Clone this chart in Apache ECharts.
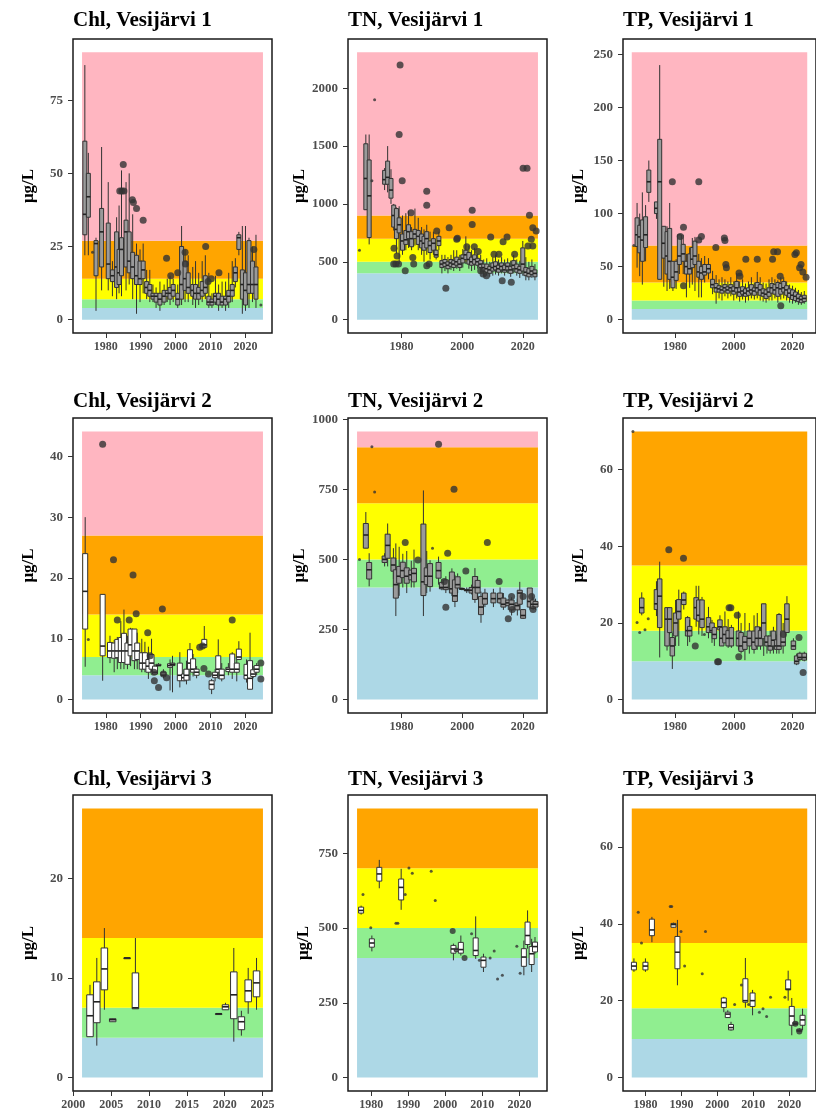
<!DOCTYPE html>
<html>
<head>
<meta charset="utf-8">
<script src="https://cdn.jsdelivr.net/npm/echarts@6/dist/echarts.min.js"></script>
<style>
  html, body { margin: 0; padding: 0; background: #fff; }
  #chart { width: 816px; height: 1111px; }
</style>
</head>
<body>
<div id="chart"></div>
<script>
// box rows: [year, min, q1, median, q3, max]; outliers / single points: [year, value]

const chl1Boxes = [
  [1974.0, 22, 29, 36, 61, 87], [1975.0, 22, 35, 42, 50, 57], [1977.2, 3, 15, 26, 27, 28],
  [1978.8, 10, 18, 30, 38, 59], [1980.7, 10, 14, 19, 33, 47], [1981.9, 8, 13, 15, 17, 20],
  [1983.1, 7, 11, 18, 30, 35], [1983.8, 9, 12, 16, 24, 39], [1984.5, 8, 15, 24, 28, 51],
  [1985.8, 10, 18, 30, 34, 47], [1986.7, 12, 16, 20, 30, 50], [1987.7, 7, 14, 18, 23, 36],
  [1988.8, 2, 12, 15, 22, 26], [1989.8, 6, 12, 14, 20, 24], [1990.7, 9, 14, 17, 20, 26],
  [1991.7, 7, 9, 11, 13, 17], [1992.6, 6, 8, 10, 12, 17], [1993.5, 6, 7, 8, 9, 12],
  [1994.4, 4, 6, 8, 9, 11], [1995.5, 3, 5, 7, 9, 13], [1996.7, 5, 6, 8, 10, 12],
  [1997.6, 6, 8, 9, 10, 14], [1998.4, 5, 7, 9, 11, 15], [1999.3, 6, 8, 10, 12, 14],
  [2000.6, 4, 5, 7, 9, 12], [2001.7, 5, 7, 12, 25, 32], [2002.7, 6, 10, 14, 20, 24],
  [2003.6, 6, 9, 11, 16, 22], [2004.9, 5, 8, 10, 12, 18], [2005.7, 4, 7, 9, 12, 20],
  [2006.6, 5, 7, 9, 11, 16], [2007.6, 6, 8, 10, 13, 20], [2008.5, 7, 9, 11, 15, 22],
  [2009.5, 4, 5, 6, 8, 16], [2010.4, 4, 5, 6, 7, 9], [2011.4, 5, 6, 8, 9, 15],
  [2012.3, 3, 5, 7, 9, 12], [2013.3, 4, 5, 6, 8, 13], [2014.3, 3, 5, 7, 8, 13],
  [2015.2, 4, 6, 8, 10, 16], [2016.2, 6, 8, 10, 12, 20], [2017.1, 11, 13, 16, 18, 21],
  [2018.1, 22, 24, 28, 29, 30], [2019.1, 2, 7, 12, 17, 32], [2020.0, 3, 5, 10, 16, 32],
  [2021.0, 4, 9, 12, 27, 28], [2022.0, 6, 9, 12, 20, 25], [2023.0, 4, 7, 12, 18, 29]
];
const chl1Outliers = [
  [1984.0, 44], [1984.6, 44], [1985.2, 44], [1985.0, 53], [1987.6, 41], [1987.9, 40],
  [1988.8, 38], [1990.7, 34], [1997.4, 21], [1998.6, 15], [2000.6, 16], [2002.7, 23],
  [2002.8, 19], [2008.6, 25], [2009.3, 13], [2010.2, 14], [2012.4, 16], [2022.4, 24]
];
const chl1Points = [[1976.2, 23], [2024.4, 5]];

const tn1Boxes = [
  [1968.2, 950, 950, 1220, 1520, 1600], [1969.3, 650, 710, 1070, 1380, 1600],
  [1974.4, 1120, 1170, 1210, 1290, 1310], [1975.4, 1100, 1170, 1230, 1370, 1500],
  [1976.5, 1000, 1050, 1120, 1220, 1300], [1977.4, 770, 800, 900, 990, 1000],
  [1978.3, 570, 700, 780, 960, 970], [1979.2, 480, 750, 820, 880, 980],
  [1980.3, 560, 600, 680, 740, 900], [1981.4, 600, 650, 690, 770, 920],
  [1982.3, 620, 700, 760, 820, 940], [1983.3, 600, 630, 700, 760, 800],
  [1984.4, 640, 700, 740, 780, 960], [1985.5, 600, 650, 720, 770, 880],
  [1986.6, 560, 620, 680, 740, 800], [1987.4, 500, 600, 660, 720, 780],
  [1988.3, 560, 620, 700, 760, 820], [1989.4, 520, 580, 640, 680, 760],
  [1990.5, 560, 600, 660, 700, 760], [1991.4, 520, 540, 560, 600, 640],
  [1992.3, 600, 640, 680, 720, 760], [1993.3, 400, 450, 480, 510, 560],
  [1994.3, 420, 460, 490, 520, 560], [1995.3, 400, 440, 470, 500, 540],
  [1996.3, 430, 460, 490, 520, 560], [1997.2, 420, 450, 480, 510, 600],
  [1998.2, 440, 470, 500, 540, 600], [1999.2, 420, 450, 480, 520, 560],
  [2000.2, 450, 490, 530, 560, 610], [2001.2, 480, 520, 560, 600, 720],
  [2002.2, 440, 480, 520, 580, 640], [2003.1, 420, 470, 500, 540, 600],
  [2004.1, 430, 480, 520, 560, 620], [2005.1, 440, 470, 500, 530, 570],
  [2006.1, 410, 450, 480, 510, 560], [2007.1, 380, 420, 450, 480, 520],
  [2008.1, 380, 410, 440, 480, 530], [2009.1, 370, 400, 430, 460, 500],
  [2010.1, 380, 420, 450, 490, 540], [2011.0, 390, 430, 460, 500, 560],
  [2012.0, 380, 410, 440, 470, 520], [2013.0, 400, 430, 460, 490, 540],
  [2014.0, 380, 410, 430, 470, 520], [2015.0, 400, 430, 460, 490, 530],
  [2016.0, 370, 400, 430, 460, 510], [2017.0, 400, 440, 470, 510, 560],
  [2018.0, 380, 410, 440, 480, 520], [2019.0, 360, 400, 430, 460, 510],
  [2020.0, 380, 420, 480, 620, 680], [2021.0, 340, 380, 410, 450, 540],
  [2022.0, 340, 370, 400, 440, 500], [2023.0, 360, 390, 420, 460, 520],
  [2024.0, 340, 370, 400, 430, 480]
];
const tn1Outliers = [
  [1979.5, 2200], [1979.2, 1600], [1980.2, 1200], [1977.5, 617], [1977.4, 480], [1978.1, 480],
  [1979.0, 480], [1978.5, 551], [1981.2, 423], [1983.1, 923], [1983.7, 537], [1984.0, 480],
  [1988.3, 1109], [1988.3, 989], [1988.3, 466], [1989.1, 480], [1991.6, 766], [1994.6, 271],
  [1995.7, 794], [1998.2, 694], [1998.4, 703], [2001.5, 629], [2003.3, 946], [2003.3, 823],
  [2004.0, 629], [2005.3, 589], [2006.1, 423], [2006.9, 394], [2008.0, 380], [2009.4, 714],
  [2010.5, 566], [2012.1, 566], [2013.2, 337], [2013.5, 674], [2014.8, 714], [2016.2, 323],
  [2017.3, 566], [2020.1, 1309], [2021.4, 1309], [2022.2, 903], [2022.8, 694], [2023.3, 637],
  [2024.4, 766], [2021.7, 637], [2023.3, 794]
];
const tn1Points = [[1966.1, 600], [1971.1, 1900], [1970.2, 1200]];

const tp1Boxes = [
  [1967.1, 49, 69, 80, 96, 110], [1968.0, 41, 63, 78, 89, 100], [1968.9, 33, 55, 75, 94, 120],
  [1970.0, 55, 68, 80, 97, 108], [1971.1, 111, 120, 130, 141, 150], [1973.7, 95, 100, 105, 111, 111],
  [1974.8, 38, 38, 130, 170, 240], [1976.2, 31, 58, 72, 88, 88], [1977.3, 27, 43, 60, 83, 88],
  [1978.2, 29, 38, 55, 86, 110], [1979.3, 27, 30, 40, 55, 55], [1980.4, 29, 37, 45, 55, 57],
  [1981.5, 43, 52, 60, 80, 80], [1982.8, 43, 55, 62, 71, 80], [1983.9, 21, 43, 50, 55, 62],
  [1985.0, 30, 43, 48, 62, 68], [1985.9, 33, 49, 57, 68, 77], [1986.8, 27, 52, 60, 74, 78],
  [1988.1, 21, 40, 45, 55, 62], [1989.0, 21, 38, 44, 50, 58], [1990.1, 35, 42, 45, 52, 60],
  [1991.4, 38, 44, 48, 52, 58], [1992.8, 24, 30, 33, 38, 46], [1994.0, 15, 26, 30, 34, 42],
  [1995.0, 20, 26, 29, 32, 38], [1996.0, 18, 25, 28, 31, 40], [1997.0, 22, 27, 30, 33, 38],
  [1998.0, 20, 25, 28, 31, 36], [1999.0, 22, 27, 30, 33, 40], [2000.0, 18, 24, 27, 31, 36],
  [2001.0, 20, 26, 30, 36, 44], [2002.0, 17, 22, 26, 30, 36], [2003.0, 19, 24, 27, 31, 38],
  [2004.0, 16, 22, 25, 29, 34], [2005.0, 18, 23, 27, 30, 36], [2006.0, 20, 25, 28, 33, 40],
  [2007.0, 19, 23, 27, 30, 35], [2008.0, 20, 26, 30, 35, 45], [2009.0, 18, 23, 28, 33, 40],
  [2010.0, 17, 22, 25, 29, 35], [2011.0, 16, 20, 24, 28, 34], [2012.0, 18, 22, 26, 30, 38],
  [2013.0, 18, 25, 30, 34, 40], [2014.0, 20, 24, 28, 33, 38], [2015.0, 16, 22, 30, 35, 37],
  [2016.0, 19, 24, 29, 34, 40], [2017.0, 20, 26, 30, 36, 40], [2018.0, 18, 23, 28, 32, 36],
  [2019.0, 16, 21, 25, 29, 33], [2020.0, 15, 19, 23, 28, 32], [2021.0, 16, 18, 22, 26, 30],
  [2022.0, 14, 17, 20, 24, 28], [2023.0, 14, 16, 19, 22, 26], [2024.0, 15, 17, 20, 23, 27]
];
const tp1Outliers = [
  [1979.1, 130], [1981.8, 78.5], [1982.9, 87], [1982.9, 32], [1988.1, 130], [1988.1, 75],
  [1989.0, 78.5], [1993.9, 68], [1996.8, 77], [1997.0, 74.5], [1997.3, 52], [1997.5, 49],
  [2001.8, 44], [2002.1, 41], [2004.1, 57], [2008.0, 57], [2013.2, 57], [2013.6, 64],
  [2014.9, 64], [2015.8, 41], [2016.0, 13], [2020.8, 61.5], [2021.3, 63], [2022.4, 49],
  [2022.9, 52], [2023.5, 45], [2024.6, 40]
];
const tp1Points = [[1966.0, 70]];

const chl2Boxes = [
  [1974.1, 5.4, 11.6, 17.8, 24, 30], [1979.1, 3.1, 7.2, 8.8, 17.3, 17.3], [1981.2, 6, 6.9, 8, 9.4, 10.5],
  [1982.4, 4.5, 6.8, 8, 9.3, 9.8], [1983.3, 5, 6.9, 8, 9.9, 10.3], [1984.3, 5, 6.1, 8, 10.2, 12.9],
  [1985.2, 5, 6.1, 8, 10.9, 14.8], [1986.2, 5, 5.8, 8, 9.3, 10.5], [1987.1, 5.5, 7.2, 9, 11.6, 11.8],
  [1988.2, 5, 6.4, 8, 11.6, 11.6], [1989.0, 5, 6.6, 8, 9.3, 11], [1990.3, 4.5, 5, 6, 7.7, 10],
  [1991.2, 4.5, 5, 6, 7.7, 9.5], [1992.2, 3.4, 4.5, 5.5, 6.6, 8.7], [1993.1, 4.5, 5, 6, 7.4, 10],
  [1994.1, 4.2, 4.2, 4.5, 5.5, 5.8], [1995.1, 5.5, 5.6, 5.6, 5.8, 6], [1996.5, 3.5, 4, 4, 4.5, 5],
  [1998.4, 1.5, 5.3, 5.6, 5.9, 6.6], [1999.1, 1.2, 5.6, 5.8, 6, 7.2], [2001.2, 2, 3.1, 4, 6, 7.8],
  [2002.4, 3, 3.1, 3.6, 4.2, 5], [2003.1, 2.5, 3.2, 4, 5, 6.4], [2004.1, 3.1, 5, 6, 8.2, 9.3],
  [2005.0, 3.8, 4.5, 5, 6.7, 7.5], [2006.0, 3.5, 4, 4.5, 5, 5.5], [2008.2, 8.6, 8.6, 9, 9.9, 12.1],
  [2010.3, 0.9, 1.7, 2.5, 3.1, 3.4], [2011.3, 3, 3.6, 4, 4.5, 5], [2012.2, 3.4, 4.5, 5, 7.2, 9.9],
  [2013.2, 3, 3.4, 4, 5, 6], [2015.1, 4, 4.6, 5, 5.3, 6], [2016.2, 3.4, 4.5, 5, 7.5, 7.8],
  [2017.5, 3, 4.5, 5, 6, 6.7], [2018.1, 6.5, 6.6, 7, 8.3, 9.6], [2020.3, 2.8, 3.4, 4, 5.8, 6.6],
  [2021.3, 1.7, 1.7, 3.5, 6.4, 11], [2022.2, 3.5, 3.8, 4.2, 4.9, 5.5], [2023.2, 4, 4.5, 5, 5.6, 6]
];
const chl2Outliers = [
  [1979.1, 42], [1982.2, 23], [1983.3, 13.1], [1986.7, 13.1], [1987.8, 20.5], [1988.7, 14.1],
  [1992.0, 11], [1992.7, 7.2], [1993.8, 4.5], [1993.9, 3.1], [1995.1, 2.0], [1996.2, 14.9],
  [1996.5, 4.2], [1997.4, 3.6], [2006.9, 8.6], [2007.7, 8.8], [2008.1, 5.1], [2009.4, 4.2],
  [2016.2, 13.1], [2024.4, 6], [2024.4, 3.4]
];
const chl2Points = [[1975.0, 9.9]];

const tn2Boxes = [
  [1968.2, 540, 540, 587, 628, 669], [1969.3, 404, 430, 463, 489, 522], [1974.4, 475, 489, 500, 512, 522],
  [1975.4, 475, 504, 550, 590, 628], [1977.3, 430, 458, 480, 505, 540], [1978.1, 298, 362, 410, 463, 557],
  [1979.2, 370, 415, 440, 475, 545], [1980.4, 400, 435, 460, 490, 520], [1981.7, 380, 415, 440, 470, 530],
  [1983.2, 400, 427, 445, 462, 495], [1984.1, 400, 420, 450, 468, 535], [1987.2, 298, 371, 420, 626, 746],
  [1988.3, 380, 410, 440, 470, 530], [1989.4, 385, 403, 440, 485, 497], [1992.2, 410, 433, 460, 489, 510],
  [1993.3, 390, 395, 400, 418, 430], [1994.6, 380, 392, 400, 427, 440], [1996.6, 370, 380, 395, 455, 468],
  [1997.6, 330, 350, 370, 427, 445], [1998.5, 380, 398, 410, 438, 450], [1999.9, 390, 393, 395, 397, 400],
  [2001.5, 380, 388, 390, 393, 400], [2003.1, 375, 380, 390, 400, 410], [2004.2, 345, 357, 400, 439, 469],
  [2005.1, 360, 380, 400, 425, 440], [2006.2, 274, 303, 330, 368, 385], [2007.5, 330, 340, 360, 380, 395],
  [2010.3, 330, 345, 360, 380, 395], [2012.5, 340, 345, 360, 380, 400], [2013.6, 320, 330, 340, 362, 380],
  [2015.2, 320, 335, 345, 355, 360], [2016.3, 300, 320, 340, 355, 365], [2018.2, 300, 320, 335, 345, 360],
  [2019.0, 320, 340, 380, 390, 420], [2020.1, 288, 290, 300, 321, 321], [2022.3, 321, 330, 350, 398, 398],
  [2023.4, 320, 325, 340, 355, 365], [2024.2, 320, 330, 340, 350, 360]
];
const tn2Outliers = [
  [1981.2, 560], [1985.4, 498], [1992.2, 911], [1994.1, 421], [1994.6, 329], [1995.2, 522],
  [1997.3, 750], [2001.2, 459], [2008.3, 560], [2012.2, 421], [2015.2, 288], [2016.3, 368],
  [2016.5, 321], [2020.1, 368], [2022.9, 368], [2023.4, 321]
];
const tn2Points = [[1966.1, 500], [1970.2, 902], [1971.1, 740], [1990.2, 540]];

const tp2Boxes = [
  [1968.7, 22, 22.6, 24, 26.5, 28], [1973.7, 21.8, 23.5, 25, 28.7, 30.9], [1974.8, 11, 18.8, 27, 31.5, 36],
  [1977.3, 12.8, 14, 21, 24, 24], [1978.2, 17, 17.5, 21, 24, 24], [1979.1, 8, 11.4, 14, 16.2, 17.5],
  [1980.2, 14, 16.6, 20, 22.6, 26], [1981.3, 14, 21, 23, 26.1, 28.7], [1983.0, 23.5, 24.8, 26, 27.8, 28.2],
  [1984.3, 14, 16.6, 18, 21.4, 21.8], [1985.0, 15, 16.6, 18, 19.1, 20.8], [1987.2, 19, 21, 24, 26.6, 29.7],
  [1988.1, 17, 20.5, 22, 26, 29.7], [1989.2, 16.6, 18.8, 21, 26, 26.8], [1991.4, 16, 17.5, 19, 21.4, 24.2],
  [1992.6, 14.8, 17.5, 18, 20, 20.8], [1993.4, 14, 15.9, 17, 18.8, 19.1], [1995.3, 15, 18.2, 19, 20.8, 22],
  [1995.9, 14, 14, 16, 18.8, 19], [1997.0, 14.8, 14.8, 17, 19, 23], [1998.1, 13.5, 14, 16, 18, 21],
  [1999.2, 13.5, 14, 16, 18.8, 19.5], [2001.6, 13, 14, 16, 17.9, 23], [2002.5, 12, 12.6, 14, 17.5, 20],
  [2003.8, 10.3, 13.1, 15, 16.5, 22.6], [2005.3, 12, 14, 16, 17.9, 20], [2006.9, 12, 13.1, 15, 17.9, 22],
  [2008.0, 13, 14, 16, 19, 22.6], [2009.1, 13, 14, 16, 18, 19], [2010.2, 11.4, 15.9, 20, 25, 25],
  [2011.3, 12, 14, 15, 16.6, 16.6], [2012.4, 12, 12.9, 14, 16.6, 18], [2013.5, 12, 14, 15.5, 17.9, 19],
  [2014.6, 12, 13.1, 14, 15.6, 17], [2015.4, 12, 13.1, 14, 22.2, 22.6], [2016.8, 12, 14, 15, 17.9, 20],
  [2018.1, 17.5, 17.5, 21, 25, 27], [2020.3, 13, 13.1, 14, 15.3, 16], [2021.4, 9, 9.3, 10, 11.4, 12],
  [2022.5, 10, 10.5, 11, 12.1, 12.5], [2024.0, 10, 10.3, 11, 12.1, 12.5]
];
const tp2Outliers = [
  [1977.9, 39.1], [1982.9, 36.9], [1986.9, 14], [1994.5, 9.9], [1994.8, 9.9], [1998.4, 24],
  [1999.0, 24], [2001.2, 22], [2001.7, 11.2], [2016.9, 17], [2022.2, 16.2], [2023.6, 7.1]
];
const tp2Points = [[1965.7, 70], [1967.1, 20.1], [1968.0, 17.5], [1969.8, 18.2], [1970.9, 21.1], [1990.0, 17]];

const chl3Boxes = [
  [2002.2, 4.1, 4.1, 6.2, 8.3, 9.3], [2003.1, 3.2, 5.5, 7.6, 9.6, 12], [2004.1, 6.8, 8.8, 10.9, 13, 15],
  [2005.2, 5.6, 5.6, 5.8, 5.9, 5.9], [2007.1, 12, 12, 12, 12, 12], [2008.2, 6.9, 6.9, 7, 10.5, 14],
  [2019.2, 6.4, 6.4, 6.4, 6.4, 6.4], [2020.1, 6.8, 6.8, 7.1, 7.3, 7.5], [2021.2, 3.6, 5.9, 8.3, 10.6, 13],
  [2022.2, 4.2, 4.8, 5.6, 6.1, 6.7], [2023.1, 6.4, 7.6, 8.7, 9.8, 11], [2024.2, 6.8, 8.1, 9.5, 10.7, 12]
];
const chl3Outliers = [];
const chl3Points = [];

const tn3Boxes = [
  [1977.3, 545, 550, 559, 570, 575], [1980.2, 422, 436, 450, 464, 475], [1982.2, 633, 657, 681, 703, 728],
  [1988.1, 561, 594, 636, 664, 698], [2002.2, 392, 416, 430, 442, 448], [2003.1, 420, 422, 427, 432, 434],
  [2004.2, 408, 416, 428, 452, 475], [2008.2, 397, 408, 425, 467, 539], [2010.3, 353, 369, 392, 403, 414],
  [2021.2, 342, 372, 403, 431, 458], [2022.2, 431, 445, 475, 520, 559], [2023.3, 353, 378, 414, 438, 464],
  [2024.2, 414, 420, 438, 453, 470]
];
const tn3Outliers = [[2002.0, 490], [2005.2, 400]];
const tn3Points = [
  [1977.8, 612], [1979.9, 501], [1986.7, 516], [1987.2, 516], [1989.2, 612], [1990.2, 701],
  [1991.1, 683], [1996.2, 690], [1997.3, 592], [2007.1, 481], [2009.2, 392], [2012.1, 400],
  [2013.2, 423], [2014.1, 330], [2015.4, 342], [2019.3, 439], [2020.2, 349]
];

const tp3Boxes = [
  [1976.8, 27.5, 28, 29, 30, 31], [1980.0, 27.5, 28, 29, 30, 31], [1981.8, 35.2, 36.9, 38.4, 41.2, 41.8],
  [1987.8, 39, 39.1, 39.8, 40.1, 40.3], [1988.9, 24, 28.3, 32.6, 36.7, 41], [2001.8, 17, 18.2, 19.5, 20.7, 21],
  [2002.9, 15.5, 15.6, 16.5, 17, 17.5], [2003.8, 12.2, 12.4, 13, 13.8, 14.5], [2007.8, 18.2, 19.6, 20, 25.7, 31.1],
  [2009.8, 16.2, 18.5, 20, 22, 22.8], [2019.7, 20, 22.8, 23, 25.4, 27.8], [2020.7, 11, 13.6, 16, 18.5, 20.7],
  [2021.7, 13.6, 13.8, 14, 14.4, 14.5], [2022.8, 11.8, 12, 12.2, 12.6, 12.8], [2023.7, 12.3, 13.6, 15, 16.2, 17.9]
];
const tp3Outliers = [[2021.7, 14], [2022.8, 12]];
const tp3Points = [
  [1978.0, 43], [1978.9, 35], [1986.9, 44.5], [1987.3, 44.5], [1989.9, 38], [1990.9, 29],
  [1995.8, 27], [1996.7, 38], [2004.8, 19], [2006.7, 24.1], [2008.7, 19], [2011.7, 17],
  [2012.7, 17.9], [2013.7, 15.9], [2014.8, 20.9], [2018.8, 20.9]
];

// status class limits (blue, green, yellow, orange, pink)
const chlLimits = [0, 4, 7, 14, 27];
const tnLimits = [0, 400, 500, 700, 900];
const tpLimits = [0, 10, 18, 35, 70];
const bandColors = ['#ADD8E6', '#90EE90', '#FFFF00', '#FFA500', '#FFB6C1'];

const panels = [
  { title: 'Chl, Vesijärvi 1', boxes: chl1Boxes, outliers: chl1Outliers, points: chl1Points, limits: chlLimits,
    yTop: 91.35, xFrom: 1973.2, xTo: 2025, xTicks: [1980, 1990, 2000, 2010, 2020], yTicks: [0, 25, 50, 75] },
  { title: 'TN, Vesijärvi 1', boxes: tn1Boxes, outliers: tn1Outliers, points: tn1Points, limits: tnLimits,
    yTop: 2310, xFrom: 1965.3, xTo: 2025, xTicks: [1980, 2000, 2020], yTicks: [0, 500, 1000, 1500, 2000] },
  { title: 'TP, Vesijärvi 1', boxes: tp1Boxes, outliers: tp1Outliers, points: tp1Points, limits: tpLimits,
    yTop: 252, xFrom: 1965.3, xTo: 2025, xTicks: [1980, 2000, 2020], yTicks: [0, 50, 100, 150, 200, 250] },
  { title: 'Chl, Vesijärvi 2', boxes: chl2Boxes, outliers: chl2Outliers, points: chl2Points, limits: chlLimits,
    yTop: 44.1, xFrom: 1973.2, xTo: 2025, xTicks: [1980, 1990, 2000, 2010, 2020], yTicks: [0, 10, 20, 30, 40] },
  { title: 'TN, Vesijärvi 2', boxes: tn2Boxes, outliers: tn2Outliers, points: tn2Points, limits: tnLimits,
    yTop: 956.5, xFrom: 1965.3, xTo: 2025, xTicks: [1980, 2000, 2020], yTicks: [0, 250, 500, 750, 1000] },
  { title: 'TP, Vesijärvi 2', boxes: tp2Boxes, outliers: tp2Outliers, points: tp2Points, limits: tpLimits,
    yTop: 70, xFrom: 1965.3, xTo: 2025, xTicks: [1980, 2000, 2020], yTicks: [0, 20, 40, 60] },
  { title: 'Chl, Vesijärvi 3', boxes: chl3Boxes, outliers: chl3Outliers, points: chl3Points, limits: chlLimits,
    yTop: 27, xFrom: 2001.15, xTo: 2025.05, xTicks: [2000, 2005, 2010, 2015, 2020, 2025], yTicks: [0, 10, 20] },
  { title: 'TN, Vesijärvi 3', boxes: tn3Boxes, outliers: tn3Outliers, points: tn3Points, limits: tnLimits,
    yTop: 900, xFrom: 1976.2, xTo: 2025, xTicks: [1980, 1990, 2000, 2010, 2020], yTicks: [0, 250, 500, 750] },
  { title: 'TP, Vesijärvi 3', boxes: tp3Boxes, outliers: tp3Outliers, points: tp3Points, limits: tpLimits,
    yTop: 70, xFrom: 1976.2, xTo: 2025, xTicks: [1980, 1990, 2000, 2010, 2020], yTicks: [0, 20, 40, 60] }
];

// layout of the 3x3 facets, in px
const colLeft = [73, 348, 623];
const rowTop = [39, 418, 795];
const rowHeight = [294, 295, 297];
const titleTop = [10, 391, 769];
const plotWidth = 199;
const boxWidth = [4, 4, 4, 5, 5, 4.5, 6.5, 5, 5];
const boxFill = ['#9a9a9a', '#9a9a9a', '#9a9a9a', '#ffffff', '#9a9a9a', '#9a9a9a', '#ffffff', '#ffffff', '#ffffff'];

const serif = '"Liberation Serif", "Times New Roman", serif';
const tickText = { fontFamily: serif, fontWeight: 'bold', color: '#4d4d4d', formatter: v => String(v) };

const chart = echarts.init(document.getElementById('chart'));
const option = { animation: false, backgroundColor: '#fff', title: [], grid: [], xAxis: [], yAxis: [], series: [] };

panels.forEach((p, i) => {
  const row = Math.floor(i / 3), col = i % 3;
  const xSpan = p.xTo - p.xFrom;

  option.title.push({
    text: p.title, left: colLeft[col], top: titleTop[row], padding: 0,
    textStyle: { fontFamily: serif, fontWeight: 'bold', fontSize: 21, color: '#000' }
  });
  option.grid.push({
    left: colLeft[col], top: rowTop[row], width: plotWidth, height: rowHeight[row],
    show: true, borderColor: '#1a1a1a', borderWidth: 1.5, backgroundColor: 'transparent'
  });
  option.xAxis.push({
    type: 'value', gridIndex: i,
    min: p.xFrom - 0.05 * xSpan, max: p.xTo + 0.05 * xSpan,
    axisLine: { show: false, onZero: false },
    axisTick: { show: true, customValues: p.xTicks, length: 5, lineStyle: { color: '#333' } },
    axisLabel: Object.assign({ customValues: p.xTicks, fontSize: 12, margin: 8 }, tickText),
    splitLine: { show: false }
  });
  option.yAxis.push({
    type: 'value', gridIndex: i,
    min: -0.05 * p.yTop, max: 1.05 * p.yTop,
    axisLine: { show: false, onZero: false },
    axisTick: { show: true, customValues: p.yTicks, length: 5, lineStyle: { color: '#333' } },
    axisLabel: Object.assign({ customValues: p.yTicks, fontSize: 13, margin: 10 }, tickText),
    splitLine: { show: false },
    name: 'μg/L', nameLocation: 'middle', nameRotate: 90, nameGap: 36,
    nameTextStyle: { fontFamily: serif, fontWeight: 'bold', fontSize: 17, color: '#000' }
  });

  // background status bands
  const bands = [];
  p.limits.forEach((lo, k) => {
    const hi = k + 1 < p.limits.length ? Math.min(p.limits[k + 1], p.yTop) : p.yTop;
    if (lo < p.yTop && hi > lo) bands.push([p.xFrom, p.xTo, lo, hi, k]);
  });
  option.series.push({
    type: 'custom', xAxisIndex: i, yAxisIndex: i, silent: true, z: 1,
    data: bands, encode: { x: [0, 1], y: [2, 3] },
    renderItem: (params, api) => {
      const a = api.coord([api.value(0), api.value(3)]);
      const b = api.coord([api.value(1), api.value(2)]);
      return { type: 'rect', shape: { x: a[0], y: a[1], width: b[0] - a[0], height: b[1] - a[1] },
               style: { fill: bandColors[api.value(4)] } };
    }
  });

  // yearly box plots
  const hw = boxWidth[i] / 2;
  option.series.push({
    type: 'custom', xAxisIndex: i, yAxisIndex: i, silent: true, z: 2,
    data: p.boxes, encode: { x: 0, y: [1, 2, 3, 4, 5] },
    renderItem: (params, api) => {
      const x = api.value(0);
      const lo = api.coord([x, api.value(1)]);
      const q1 = api.coord([x, api.value(2)]);
      const md = api.coord([x, api.value(3)]);
      const q3 = api.coord([x, api.value(4)]);
      const hi = api.coord([x, api.value(5)]);
      return { type: 'group', children: [
        { type: 'line', shape: { x1: lo[0], y1: lo[1], x2: hi[0], y2: hi[1] }, style: { stroke: '#333', lineWidth: 1 } },
        { type: 'rect', shape: { x: q3[0] - hw, y: q3[1], width: 2 * hw, height: Math.max(q1[1] - q3[1], 0.8) },
          style: { fill: boxFill[i], stroke: '#333', lineWidth: 1 } },
        { type: 'line', shape: { x1: md[0] - hw, y1: md[1], x2: md[0] + hw, y2: md[1] }, style: { stroke: '#222', lineWidth: 1.6 } }
      ] };
    }
  });

  option.series.push({
    type: 'scatter', xAxisIndex: i, yAxisIndex: i, silent: true, z: 3,
    data: p.outliers, symbol: 'circle', symbolSize: row === 2 ? 6 : 7,
    itemStyle: { color: '#333' }
  });
  option.series.push({
    type: 'scatter', xAxisIndex: i, yAxisIndex: i, silent: true, z: 3,
    data: p.points, symbol: 'circle', symbolSize: 3,
    itemStyle: { color: '#333' }
  });
});

chart.setOption(option);
</script>
</body>
</html>
